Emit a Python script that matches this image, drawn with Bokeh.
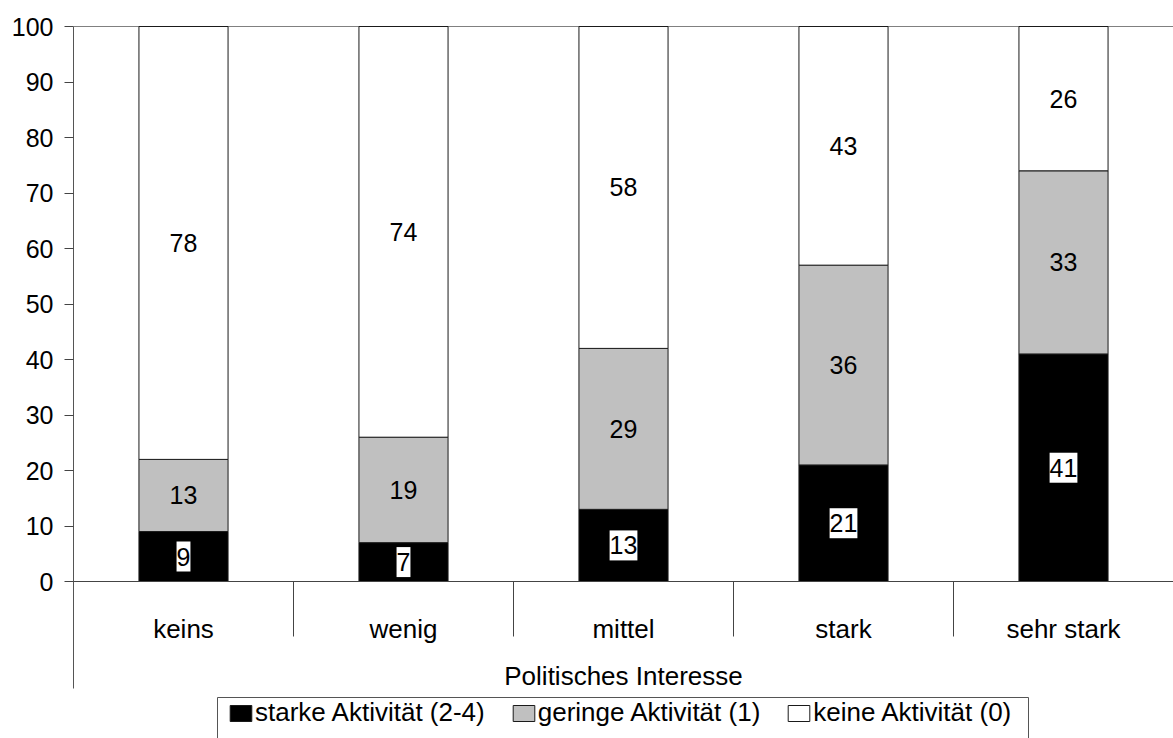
from bokeh.plotting import figure
from bokeh.models import ColumnDataSource, Range1d, FixedTicker, Span
from bokeh.core.properties import value
from bokeh.embed import file_html
from bokeh.resources import INLINE

# ---- data ----
categories = ["keins", "wenig", "mittel", "stark", "sehr stark"]
starke = [9, 7, 13, 21, 41]
geringe = [13, 19, 29, 36, 33]
keine = [78, 74, 58, 43, 26]
series_names = ["starke Aktivität (2-4)", "geringe Aktivität (1)", "keine Aktivität (0)"]
y_ticks = list(range(0, 101, 10))
x_title = "Politisches Interesse"

FONT = "Liberation Sans"
FS = "25px"
FS_BIG = "26px"

# ---- layout helpers (figure pixels -> data) ----
W, H = 1173, 738
LEFT = 73                    # frame left in figure px
PX_PER_UNIT = 5.55
Y0_FIG = 581                 # figure px of value 0


def px_x(fx):
    return (fx - LEFT) / 220.0


def px_y(fy):
    return (Y0_FIG - fy) / PX_PER_UNIT


xs = [i + 0.5 for i in range(len(categories))]
src = ColumnDataSource(dict(x=xs, starke=starke, geringe=geringe, keine=keine))

p = figure(width=W, height=H, output_backend="svg", toolbar_location=None,
           x_range=Range1d(0, len(categories)),
           y_range=Range1d(px_y(H), px_y(0)),
           min_border_left=LEFT, min_border_right=0, min_border_top=0, min_border_bottom=0)
p.outline_line_color = None
p.xgrid.visible = False
p.ygrid.visible = False
p.xaxis.visible = False
p.background_fill_color = "white"
p.border_fill_color = "white"

# y axis
ya = p.yaxis[0]
ya.ticker = FixedTicker(ticks=y_ticks)
ya.bounds = (px_y(688), 100)
ya.axis_line_color = "#555555"
ya.major_tick_line_color = "#444444"
ya.major_tick_out = 9
ya.major_tick_in = 0
ya.minor_tick_out = 0
ya.minor_tick_in = 0
ya.major_label_text_font = FONT
ya.major_label_text_font_size = FS
ya.major_label_text_color = "black"
ya.major_label_standoff = 11

# top line at 100
p.add_layout(Span(location=100, dimension="width", line_color="#808080", line_width=1, level="underlay"))

# bars
p.vbar_stack(["starke", "geringe", "keine"], x="x", width=0.405, source=src,
             fill_color=["#000000", "#C0C0C0", "#FFFFFF"],
             line_color="#1a1a1a", line_width=1,
             legend_label=series_names)

# baseline and category dividers
n = len(categories)
p.segment(x0=[0], y0=[0], x1=[n], y1=[0], line_color="#444444", line_width=1)
p.segment(x0=list(range(1, n)), y0=[0] * (n - 1), x1=list(range(1, n)), y1=[px_y(636)] * (n - 1),
          line_color="#444444", line_width=1)

# category labels
p.text(x=xs, y=[px_y(628)] * n, text=categories, text_align="center", text_baseline="alphabetic",
       text_font=value(FONT), text_font_size=FS_BIG, text_color="black")
# axis title
p.text(x=[n / 2], y=[px_y(675)], text=[x_title], text_align="center", text_baseline="alphabetic",
       text_font=value(FONT), text_font_size=FS_BIG, text_color="black")

# value labels
bottoms = [0] * n
for vals, boxed in [(starke, True), (geringe, False), (keine, False)]:
    ys = [b + v / 2 for b, v in zip(bottoms, vals)]
    kw = {}
    if boxed:
        kw = dict(background_fill_color="white", padding=(0, 6))
    p.text(x=xs, y=ys, text=[str(v) for v in vals], text_align="center", text_baseline="middle",
           text_font=value(FONT), text_font_size=FS, text_color="black", **kw)
    bottoms = [b + v for b, v in zip(bottoms, vals)]

# legend frame (left, top, right edges; bottom is off the page)
p.line(x=[px_x(217), px_x(217), px_x(1028), px_x(1028)],
       y=[px_y(770), px_y(697), px_y(697), px_y(770)],
       line_color="#555555", line_width=1)

# legend
lg = p.legend[0]
lg.orientation = "horizontal"
lg.location = (227 - LEFT, H - 728)
lg.border_line_alpha = 0
lg.background_fill_alpha = 0
lg.padding = 0
lg.margin = 0
lg.spacing = 25
lg.glyph_width = 27
lg.glyph_height = 20
lg.label_standoff = 1
lg.label_text_font = FONT
lg.label_text_font_size = FS_BIG
lg.label_text_color = "black"

open("out.html", "w").write(file_html(p, INLINE))
